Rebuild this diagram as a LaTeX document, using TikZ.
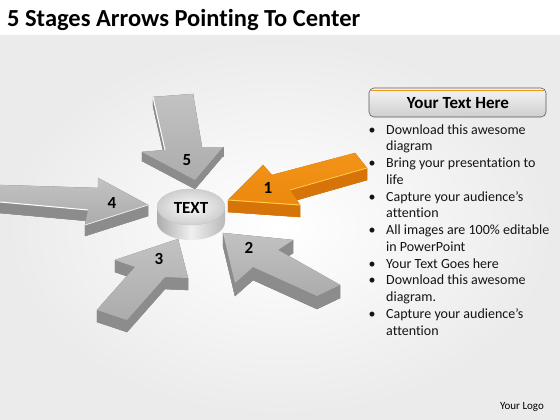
\documentclass[tikz,border=0pt]{standalone}
\usepackage{fontspec}
\setmainfont{Carlito}[Ligatures={NoCommon}]
\definecolor{orTop}{RGB}{242,148,24}
\definecolor{orTopB}{RGB}{236,136,14}
\definecolor{orSide}{RGB}{214,116,10}
\definecolor{orHi}{RGB}{255,205,70}
\definecolor{grTop}{RGB}{194,194,194}
\definecolor{grTopB}{RGB}{172,172,172}
\definecolor{grSide}{RGB}{140,140,140}
\definecolor{txt}{RGB}{20,20,20}
% #1 prefix of 7 named coordinates, #2 depth (pt), #3 side colour, #4 top colour, #5 top colour 2
\newcommand\blockarrow[5]{%
  \foreach \i/\j in {1/2,2/3,3/4,4/5,5/6,6/7,7/1}{%
    \filldraw[fill=#3, draw=#3, line width=0.3pt, line join=round]
      (#1\i) -- (#1\j) -- ([yshift=-#2pt]#1\j) -- ([yshift=-#2pt]#1\i) -- cycle;}
  \filldraw[fill=#3, draw=#3, line width=0.3pt] ([yshift=-#2pt]#11) -- ([yshift=-#2pt]#12) -- ([yshift=-#2pt]#13) -- ([yshift=-#2pt]#14) -- ([yshift=-#2pt]#15) -- ([yshift=-#2pt]#16) -- ([yshift=-#2pt]#17) -- cycle;
  \shade[top color=#4, bottom color=#5] (#11) -- (#12) -- (#13) -- (#14) -- (#15) -- (#16) -- (#17) -- cycle;
}
\tikzset{
  num/.style={font=\fontsize{17}{17}\selectfont\bfseries, text=black, inner sep=0pt},
  item/.style={anchor=base west, font=\fontsize{14}{14}\selectfont, text=txt, inner sep=0pt},
  bul/.style={anchor=base, font=\fontsize{14}{14}\selectfont, text=txt, inner sep=0pt}
}
\begin{document}
\begin{tikzpicture}[x=1pt,y=-1pt]
\useasboundingbox (0,0) rectangle (560,420);
% background
\fill[white] (0,0) rectangle (560,420);
\shade[inner color=white, outer color=gray!16] (0,36) rectangle (560,420);
% title
\node[anchor=base west, inner sep=0pt, font=\fontsize{24.5}{24.5}\selectfont\bfseries, text=black] (title) at (7,27) {5 Stages Arrows Pointing To Center};

% arrow 5
\coordinate (e1) at (153,97); \coordinate (e2) at (193,94); \coordinate (e3) at (202,147);
\coordinate (e4) at (223,147); \coordinate (e5) at (195,180); \coordinate (e6) at (142,152);
\coordinate (e7) at (165,150);
\blockarrow{e}{9}{grSide}{grTop}{grTopB}
\draw[white, line width=1pt] (e1) -- (e7);
% arrow 4
\coordinate (d1) at (0,185); \coordinate (d2) at (98,188); \coordinate (d3) at (98,178);
\coordinate (d4) at (148,205); \coordinate (d5) at (85,225); \coordinate (d6) at (88,210);
\coordinate (d7) at (0,202);
\blockarrow{d}{11}{grSide}{grTop}{grTopB}
\draw[white, line width=1pt] (d7) -- (d6);
\draw[white!85!gray, line width=0.8pt] (d5) -- (d4);
% arrow 3
\coordinate (c1) at (97,310); \coordinate (c2) at (135,267); \coordinate (c3) at (115,260);
\coordinate (c4) at (178,239); \coordinate (c5) at (188,278); \coordinate (c6) at (165,277);
\coordinate (c7) at (127,320);
\blockarrow{c}{12}{grSide}{grTop}{grTopB}
% arrow 2
\coordinate (b1) at (223,233); \coordinate (b2) at (293,240); \coordinate (b3) at (278,250);
\coordinate (b4) at (340,285); \coordinate (b5) at (317,296); \coordinate (b6) at (253,267);
\coordinate (b7) at (235,283);
\blockarrow{b}{13}{grSide}{grTop}{grTopB}
% arrow 1
\coordinate (a1) at (228,200); \coordinate (a2) at (263,165); \coordinate (a3) at (272,175);
\coordinate (a4) at (355,153); \coordinate (a5) at (367,168); \coordinate (a6) at (290,190);
\coordinate (a7) at (300,205);
\blockarrow{a}{12}{orSide}{orTop}{orTopB}
\draw[orHi, line width=1pt] (a1) -- (a7);
\draw[orHi, line width=0.8pt] (a6) -- (a5);

% center cylinder
\shade[left color=gray!65, right color=gray!55, middle color=gray!12]
  (157,207) -- (157,222) arc[start angle=180, end angle=0, x radius=34, y radius=18] -- (225,207) -- cycle;
\shade[inner color=gray!4, outer color=gray!38] (191,207) ellipse[x radius=34, y radius=18];
\draw[gray!45, line width=0.4pt] (191,207) ellipse[x radius=34, y radius=18];
\node[font=\fontsize{17}{17}\selectfont\bfseries, text=black, inner sep=0pt] (center) at (191,208) {TEXT};

% numbers
\node[num] (n5) at (187,160) {5};
\node[num] (n1) at (268,188) {1};
\node[num] (n4) at (112,203) {4};
\node[num] (n3) at (159,259) {3};
\node[num] (n2) at (249,248) {2};

% header box
\shade[top color=gray!8, bottom color=gray!38, rounded corners=5pt, draw=gray!70!black, line width=0.6pt] (369,88) rectangle (546,117);
\draw[orTop, line width=1.6pt, rounded corners=4pt] (371,90.5) -- (544,90.5);
\node[font=\fontsize{17}{17}\selectfont\bfseries, text=black, inner sep=0pt] (head) at (458,103) {Your Text Here};

% bullet text
\foreach \i/\b/\s in {0/1/Download this awesome, 1/0/diagram, 2/1/Bring your presentation to, 3/0/life, 4/1/Capture your audience’s, 5/0/attention, 6/1/All images are 100\% editable, 7/0/in PowerPoint, 8/1/Your Text Goes here, 9/1/Download this awesome, 10/0/diagram., 11/1/Capture your audience’s, 12/0/attention}{
  \node[item] (l\i) at (386,{134+\i*16.75}) {\s};
  \ifnum\b=1 \node[bul] (b\i) at (372,{134+\i*16.75}) {•};\fi
}
% logo
\node[font=\fontsize{11}{11}\selectfont, text=black, inner sep=0pt] (logo) at (522,407) {Your Logo};
\end{tikzpicture}
\end{document}
